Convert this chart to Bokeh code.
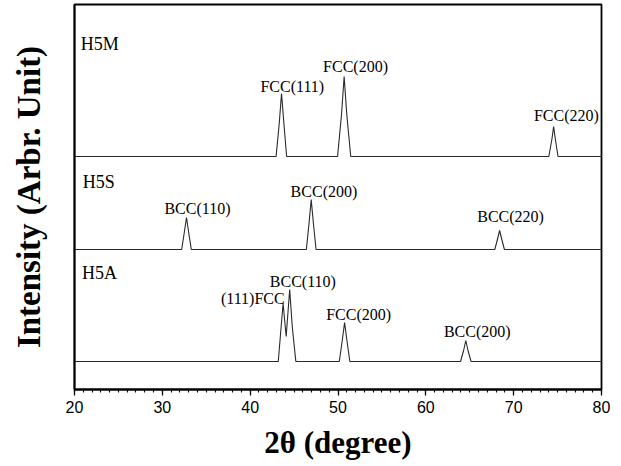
from bokeh.plotting import figure
from bokeh.models import Range1d, SingleIntervalTicker, FixedTicker, Label
from bokeh.embed import file_html
from bokeh.resources import INLINE

# ---- data (2theta in degrees, intensity in arbitrary units) ----
h5m_x = [20, 42.95, 43.3, 43.57, 43.85, 44.15, 49.95, 50.4, 50.7, 51.0, 51.45, 74.0, 74.35, 74.55, 74.75, 75.05, 80]
h5m_y = [233, 233, 265, 296, 265, 233, 233, 275, 313, 275, 233, 233, 250, 263, 250, 233, 233]

h5s_x = [20, 32.2, 32.5, 32.75, 33.0, 33.3, 46.4, 46.7, 46.95, 47.2, 47.5, 67.85, 68.15, 68.4, 68.65, 68.95, 80]
h5s_y = [140, 140, 157, 172, 157, 140, 140, 166, 190, 166, 140, 140, 150, 159, 150, 140, 140]

h5a_x = [20, 43.2, 43.5, 43.75, 44.1, 44.5, 44.8, 45.2, 50.15, 50.5, 50.75, 51.0, 51.35, 63.95, 64.3, 64.55, 64.8, 65.15, 80]
h5a_y = [28, 28, 60, 86, 53, 100, 62, 28, 28, 50, 67, 50, 28, 28, 39, 49, 39, 28, 28]

sample_names = ["H5M", "H5S", "H5A"]
sample_label_x = [20.7, 20.95, 20.85]
sample_label_y = [346, 208, 117]

peak_labels = ["FCC(111)", "FCC(200)", "FCC(220)",
               "BCC(110)", "BCC(200)", "BCC(220)",
               "(111)FCC", "BCC(110)", "FCC(200)", "BCC(200)"]
peak_label_x = [44.8, 52.0, 76.0, 34.0, 48.4, 69.65, 40.3, 46.0, 52.35, 65.85]
peak_label_y = [303, 323, 274, 181, 198, 173, 91, 108, 75, 58]

y_title = "Intensity (Arbr. Unit)"
x_title = "2θ (degree)"

x_start, x_end = 20, 80
y_start, y_end = 0, 385

SERIF = "Liberation Serif"
SANS = "Liberation Sans"

p = figure(width=621, height=466, output_backend="svg", toolbar_location=None,
           x_range=Range1d(x_start, x_end), y_range=Range1d(y_start, y_end),
           min_border_left=74, min_border_right=20, min_border_top=4, min_border_bottom=77)

p.xgrid.visible = False
p.ygrid.visible = False
p.background_fill_color = "white"
p.border_fill_color = "white"
p.outline_line_color = "black"
p.outline_line_width = 1.8

for xs, ys in [(h5m_x, h5m_y), (h5s_x, h5s_y), (h5a_x, h5a_y)]:
    p.line(xs, ys, line_color="#2a2a2a", line_width=1.1)

# x axis
p.xaxis.ticker = SingleIntervalTicker(interval=10, num_minor_ticks=10)
p.xaxis.major_tick_in = 0
p.xaxis.major_tick_out = 6
p.xaxis.minor_tick_in = 0
p.xaxis.minor_tick_out = 3
p.xaxis.major_tick_line_width = 1.3
p.xaxis.minor_tick_line_width = 1.1
p.xaxis.axis_line_width = 1.8
p.xaxis.major_label_text_font = SANS
p.xaxis.major_label_text_font_size = "16px"
p.xaxis.major_label_text_color = "black"
p.xaxis.major_label_standoff = 5
p.xaxis.axis_label = x_title
p.xaxis.axis_label_text_font = SERIF
p.xaxis.axis_label_text_font_style = "bold"
p.xaxis.axis_label_text_font_size = "31px"
p.xaxis.axis_label_text_color = "black"
p.xaxis.axis_label_standoff = 9

# y axis (no ticks)
p.yaxis.ticker = FixedTicker(ticks=[])
p.yaxis.major_tick_line_color = None
p.yaxis.minor_tick_line_color = None
p.yaxis.axis_line_width = 1.8
p.yaxis.axis_label = y_title
p.yaxis.axis_label_text_font = SERIF
p.yaxis.axis_label_text_font_style = "bold"
p.yaxis.axis_label_text_font_size = "33px"
p.yaxis.axis_label_text_color = "black"
p.yaxis.axis_label_standoff = 28

for name, lx, ly in zip(sample_names, sample_label_x, sample_label_y):
    p.add_layout(Label(x=lx, y=ly, text=name, text_font=SERIF, text_font_size="18px",
                       text_align="left", text_baseline="middle", text_color="black"))

for name, lx, ly in zip(peak_labels, peak_label_x, peak_label_y):
    p.add_layout(Label(x=lx, y=ly, text=name, text_font=SERIF, text_font_size="16px",
                       text_align="center", text_baseline="middle", text_color="black"))

open("out.html", "w").write(file_html(p, INLINE))
